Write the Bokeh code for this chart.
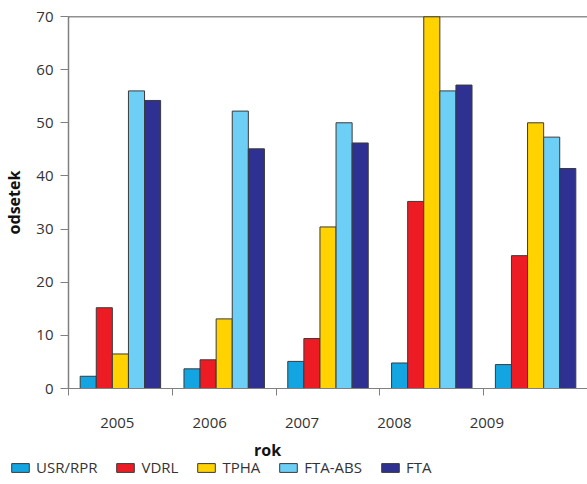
import numpy as np
from bokeh.plotting import figure
from bokeh.layouts import column, row
from bokeh.models import Range1d, FixedTicker, Span, Legend, LegendItem, Label
from bokeh.embed import file_html
from bokeh.resources import INLINE

years = ["2005", "2006", "2007", "2008", "2009"]
series = ["USR/RPR", "VDRL", "TPHA", "FTA-ABS", "FTA"]
usr_rpr = [2.3, 3.7, 5.1, 4.8, 4.5]
vdrl = [15.2, 5.4, 9.4, 35.2, 25.0]
tpha = [6.5, 13.1, 30.4, 70.0, 50.0]
fta_abs = [56.0, 52.2, 50.0, 56.0, 47.3]
fta = [54.2, 45.1, 46.2, 57.1, 41.4]
y_ticks = [0, 10, 20, 30, 40, 50, 60, 70]

values = [usr_rpr, vdrl, tpha, fta_abs, fta]
colors = ["#12A5E1", "#ED1C24", "#FFD200", "#6DCFF6", "#2E3192"]

FONT = "Open Sans"
TXT = "#333333"
AX = "#808080"
EDGE = "#3a3a3a"

p = figure(width=587, height=430, x_range=Range1d(0, 5), y_range=Range1d(0, 70),
           output_backend="svg", toolbar_location=None,
           min_border_left=66, min_border_right=0, min_border_top=16, min_border_bottom=42)
p.outline_line_color = None
p.xgrid.grid_line_color = None
p.ygrid.grid_line_color = None

centers = np.arange(len(years)) + 0.5
bw = 0.155
offsets = [-2 * bw, -bw, 0, bw, 2 * bw]
for vals, col, off in zip(values, colors, offsets):
    p.vbar(x=list(centers + off), top=vals, width=bw, bottom=0,
           fill_color=col, line_color=EDGE, line_width=1)

p.add_layout(Span(location=70, dimension="width", line_color="#222222", line_width=1.5))

# x axis: year labels (placed as in the reference), separator ticks between groups
label_pos = [round(0.47 + 0.89 * i, 3) for i in range(len(years))]
xa = p.xaxis[0]
xa.ticker = FixedTicker(ticks=label_pos, minor_ticks=list(range(len(years) + 1)))
xa.major_label_overrides = {pos: y for pos, y in zip(label_pos, years)}
xa.major_tick_line_color = None
xa.major_tick_out = 0
xa.major_tick_in = 0
xa.minor_tick_out = 7
xa.minor_tick_in = 0
xa.minor_tick_line_color = AX
xa.axis_line_color = AX
xa.major_label_standoff = 22
xa.major_label_text_font = FONT
xa.major_label_text_font_size = "15px"
xa.major_label_text_color = TXT

ya = p.yaxis[0]
ya.ticker = FixedTicker(ticks=y_ticks)
ya.minor_tick_line_color = None
ya.major_tick_out = 8
ya.major_tick_in = 0
ya.major_tick_line_color = AX
ya.axis_line_color = AX
ya.axis_line_width = 1.5
ya.major_label_standoff = 7
ya.major_label_text_font = FONT
ya.major_label_text_font_size = "15px"
ya.major_label_text_color = TXT
ya.axis_label = "odsetek"
ya.axis_label_text_font = FONT
ya.axis_label_text_font_size = "16px"
ya.axis_label_text_font_style = "bold"
ya.axis_label_text_color = "#111111"
ya.axis_label_standoff = 8

# strip under the chart: x-axis title and legend (spanning the full width like the reference)
p2 = figure(width=587, height=54, x_range=Range1d(0, 1), y_range=Range1d(0, 1),
            output_backend="svg", toolbar_location=None,
            x_axis_location=None, y_axis_location=None,
            min_border_left=0, min_border_right=0, min_border_top=0, min_border_bottom=0)
p2.outline_line_color = None
p2.xgrid.grid_line_color = None
p2.ygrid.grid_line_color = None

p2.add_layout(Label(x=267, y=35, x_units="screen", y_units="screen", text="rok",
                    text_align="center", text_baseline="middle",
                    text_font=FONT, text_font_size="16px", text_font_style="bold",
                    text_color="#111111"))

items = []
for s, col in zip(series, colors):
    # legend swatch renderer, kept outside the visible strip
    r = p2.vbar(x=[-5], bottom=[-6], top=[-5], width=0.1,
                fill_color=col, line_color=EDGE, line_width=1)
    items.append(LegendItem(label=s, renderers=[r]))
legend = Legend(items=items, orientation="horizontal", location=(9, 7),
                glyph_width=22, glyph_height=11, label_standoff=5, spacing=17,
                padding=0, margin=0, border_line_color=None, background_fill_alpha=0,
                label_text_font=FONT, label_text_font_size="15px", label_text_color=TXT)
p2.add_layout(legend)

open("out.html", "w").write(file_html(column(p, row(p2), spacing=0), INLINE))
